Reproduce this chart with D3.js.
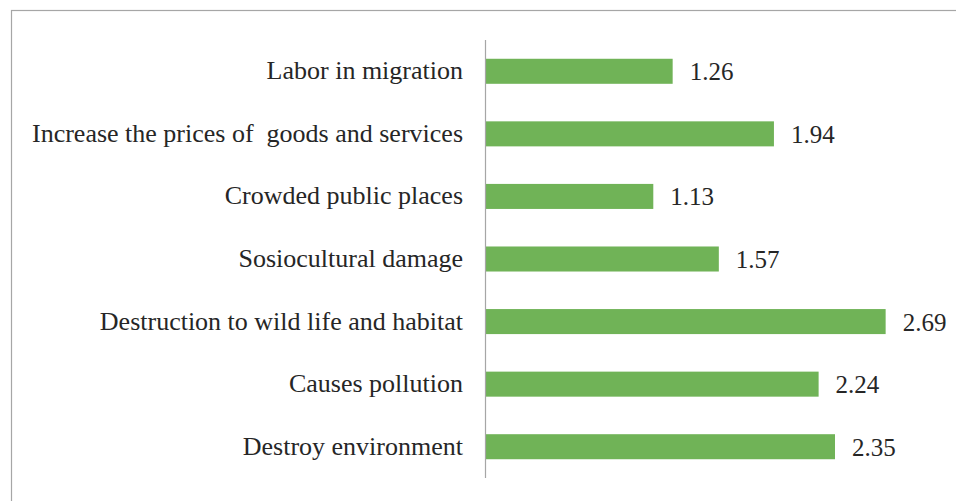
<!DOCTYPE html>
<html>
<head>
<meta charset="utf-8">
<script src="https://cdn.jsdelivr.net/npm/d3@7"></script>
<style>
  body { margin: 0; background: #fff; }
</style>
</head>
<body>
<div id="chart"></div>
<script>
// Categories, top to bottom
var categories = ['Labor in migration',
                  'Increase the prices of  goods and services',
                  'Crowded public places',
                  'Sosiocultural damage',
                  'Destruction to wild life and habitat',
                  'Causes pollution',
                  'Destroy environment'];
var values = [1.26, 1.94, 1.13, 1.57, 2.69, 2.24, 2.35];
var valueLabels = ['1.26', '1.94', '1.13', '1.57', '2.69', '2.24', '2.35'];

var width = 956,
    height = 501,
    axisX = 485,
    plotTop = 40,
    plotBottom = 478,
    barColor = '#70b357',
    fontFamily = '"Liberation Serif", "Times New Roman", Times, "DejaVu Serif", serif';

var svg = d3.select('#chart').append('svg')
    .attr('width', width)
    .attr('height', height);

// Outer frame (right and bottom edges fall outside the picture)
svg.append('rect')
    .attr('x', 11.5)
    .attr('y', 10.5)
    .attr('width', 960)
    .attr('height', 500)
    .attr('fill', 'none')
    .attr('stroke', '#a6a6a6')
    .attr('stroke-width', 1.2);

var x = d3.scaleLinear().domain([0, 2.35]).range([axisX, 835]);
var y = d3.scaleBand().domain(categories).range([plotTop, plotBottom]).paddingInner(0.6).paddingOuter(0.3);

var data = categories.map(function(c, i) {
    return {cat: c, val: values[i], label: valueLabels[i]};
});

svg.selectAll('rect.bar').data(data).enter()
    .append('rect')
    .attr('class', 'bar')
    .attr('x', x(0))
    .attr('y', function(d) { return y(d.cat); })
    .attr('width', function(d) { return x(d.val) - x(0); })
    .attr('height', y.bandwidth())
    .attr('fill', barColor);

// Category axis: line only, labels on the left
var yAxis = svg.append('g')
    .attr('transform', 'translate(' + axisX + ',0)')
    .call(d3.axisLeft(y).tickSize(0).tickPadding(22));
yAxis.attr('font-family', null).attr('font-size', null);
yAxis.select('.domain').attr('stroke', '#a6a6a6').attr('stroke-width', 1.2)
    .attr('d', 'M0.5,' + plotTop + 'V' + plotBottom);
yAxis.selectAll('text')
    .style('font-family', fontFamily)
    .style('font-size', '26px')
    .style('white-space', 'pre')
    .attr('dy', '0.31em')
    .attr('fill', '#262626');

// Value labels
svg.selectAll('text.val').data(data).enter()
    .append('text')
    .attr('class', 'val')
    .attr('x', function(d) { return x(d.val) + 17; })
    .attr('y', function(d) { return y(d.cat) + y.bandwidth() / 2; })
    .attr('dy', '0.36em')
    .style('font-family', fontFamily)
    .style('font-size', '25px')
    .attr('fill', '#262626')
    .text(function(d) { return d.label; });
</script>
</body>
</html>
